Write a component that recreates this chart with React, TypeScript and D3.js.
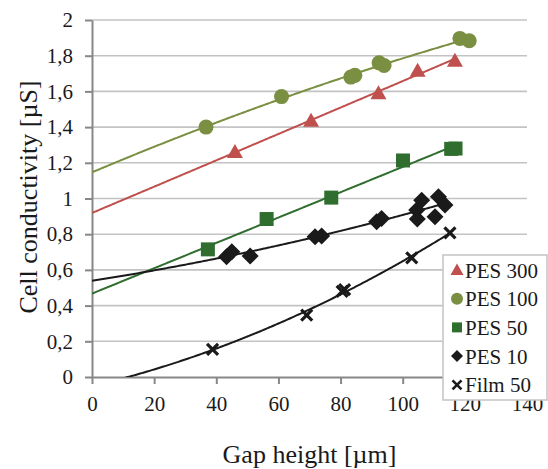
import * as d3 from "d3";
import { useRef, useEffect } from "react";

// values
const xTicks = [0, 20, 40, 60, 80, 100, 120, 140];
const yTicks = [0, 0.2, 0.4, 0.6, 0.8, 1, 1.2, 1.4, 1.6, 1.8, 2];

const seriesNames = ["PES 300", "PES 100", "PES 50", "PES 10", "Film 50"];
const seriesColors = ["#c0504d", "#7b8f42", "#2f6e2f", "#1a1a1a", "#1a1a1a"];
const seriesShapes = ["triangle", "circle", "square", "diamond", "cross"];
// trendline order used for each series (PES 50 is a straight line)
const trendOrder = [2, 2, 1, 2, 2];

const pes300X = [46.0, 70.5, 92.2, 104.8, 116.8];
const pes300Y = [1.26, 1.436, 1.589, 1.716, 1.772];

const pes100X = [36.7, 61.0, 83.3, 84.6, 92.4, 94.0, 118.4, 121.4];
const pes100Y = [1.4, 1.571, 1.68, 1.69, 1.76, 1.745, 1.897, 1.884];

const pes50X = [37.3, 56.2, 77.0, 100.1, 115.6, 117.0];
const pes50Y = [0.715, 0.885, 1.005, 1.213, 1.278, 1.28];

const pes10X = [43.3, 45.0, 50.9, 71.8, 73.9, 91.6, 93.2, 104.5, 104.7, 106.1, 110.4, 111.5, 113.6];
const pes10Y = [0.674, 0.702, 0.678, 0.786, 0.79, 0.87, 0.888, 0.935, 0.885, 0.99, 0.898, 1.01, 0.963];

const film50X = [38.8, 69.1, 80.5, 81.3, 102.9, 115.2];
const film50Y = [0.155, 0.347, 0.48, 0.49, 0.668, 0.808];

const seriesX = [pes300X, pes100X, pes50X, pes10X, film50X];
const seriesY = [pes300Y, pes100Y, pes50Y, pes10Y, film50Y];

// least squares polynomial, like the spreadsheet trendline
function fitPoly(xs: number[], ys: number[], order: number) {
  const n = order + 1;
  const s = new Array(2 * n - 1).fill(0);
  const t = new Array(n).fill(0);
  xs.forEach((x, i) => {
    for (let k = 0; k < 2 * n - 1; k++) s[k] += Math.pow(x, k);
    for (let k = 0; k < n; k++) t[k] += ys[i] * Math.pow(x, k);
  });
  const m = d3.range(n).map(r => d3.range(n).map(c => s[r + c]).concat([t[r]]));
  for (let c = 0; c < n; c++) {
    for (let r = c + 1; r < n; r++) {
      const f = m[r][c] / m[c][c];
      for (let k = c; k <= n; k++) m[r][k] -= f * m[c][k];
    }
  }
  const coef = new Array(n).fill(0);
  for (let r = n - 1; r >= 0; r--) {
    let v = m[r][n];
    for (let k = r + 1; k < n; k++) v -= m[r][k] * coef[k];
    coef[r] = v / m[r][r];
  }
  return (x: number) => coef.reduce((acc, c, k) => acc + c * Math.pow(x, k), 0);
}

function markerPath(shape: string, r: number) {
  if (shape === "triangle") return `M0,${-r}L${r},${r * 0.75}L${-r},${r * 0.75}Z`;
  if (shape === "circle") return `M${r},0A${r},${r} 0 1,1 ${-r},0A${r},${r} 0 1,1 ${r},0Z`;
  if (shape === "square") return `M${-r},${-r}H${r}V${r}H${-r}Z`;
  if (shape === "diamond") return `M0,${-r}L${r},0L0,${r}L${-r},0Z`;
  return `M${-r},${-r}L${r},${r}M${-r},${r}L${r},${-r}`;
}

const FONT = "Liberation Serif, Times New Roman, serif";

const App = () => {
  const svgRef = useRef<SVGSVGElement | null>(null);

  useEffect(() => {
    const totalWidth = 548;
    const totalHeight = 469;
    const margin = { left: 92, right: 21, top: 20, bottom: 92 };
    const width = totalWidth - margin.left - margin.right;
    const height = totalHeight - margin.top - margin.bottom;

    const root = d3.select(svgRef.current);
    root.selectAll("*").remove();

    const svg = root.append("g").attr("transform", `translate(${margin.left},${margin.top})`);

    const xScale = d3.scaleLinear().domain([0, 140]).range([0, width]);
    const yScale = d3.scaleLinear().domain([0, 2]).range([height, 0]);

    // gridlines
    svg.append("g")
      .selectAll("line")
      .data(yTicks.filter(d => d > 0))
      .join("line")
      .attr("x1", 0)
      .attr("x2", width)
      .attr("y1", d => yScale(d))
      .attr("y2", d => yScale(d))
      .attr("stroke", "#c3c3c3")
      .attr("stroke-width", 1.6);

    const fmt = (d: d3.NumberValue) => String(+(+d).toFixed(1)).replace(".", ",");

    const yAxis = svg.append("g")
      .call(d3.axisLeft(yScale).tickValues(yTicks).tickFormat(fmt).tickSize(7).tickPadding(12).tickSizeOuter(0));
    const xAxis = svg.append("g")
      .attr("transform", `translate(0, ${height})`)
      .call(d3.axisBottom(xScale).tickValues(xTicks).tickFormat(fmt).tickSize(7).tickPadding(12).tickSizeOuter(0));

    [yAxis, xAxis].forEach(ax => {
      ax.attr("font-family", FONT).attr("font-size", 21);
      ax.select(".domain").attr("stroke", "#878787").attr("stroke-width", 2);
      ax.selectAll(".tick line").attr("stroke", "#878787").attr("stroke-width", 2);
      ax.selectAll(".tick text")
        .attr("fill", "#1a1a1a")
        .attr("font-family", FONT)
        .attr("font-size", 21);
    });

    // trendlines
    const defs = root.append("defs");
    defs.append("clipPath").attr("id", "plotClip")
      .append("rect").attr("x", 0).attr("y", 0).attr("width", width).attr("height", height);

    const trendG = svg.append("g").attr("clip-path", "url(#plotClip)");
    seriesX.forEach((xs, i) => {
      const f = fitPoly(xs, seriesY[i], trendOrder[i]);
      const maxX = d3.max(xs) as number;
      const pts = d3.range(0, maxX, 0.5).concat([maxX]);
      const line = d3.line<number>()
        .x(d => xScale(d))
        .y(d => yScale(f(d)));
      trendG.append("path")
        .datum(pts)
        .attr("fill", "none")
        .attr("stroke", seriesColors[i])
        .attr("stroke-width", 2)
        .attr("d", line);
    });

    // markers
    const markerSize = [8, 7.5, 7, 8.5, 5.5];
    seriesX.forEach((xs, i) => {
      const shape = seriesShapes[i];
      svg.append("g")
        .selectAll("path")
        .data(xs.map((x, j) => ({ x, y: seriesY[i][j] })))
        .join("path")
        .attr("transform", d => `translate(${xScale(d.x)},${yScale(d.y)})`)
        .attr("d", markerPath(shape, markerSize[i]))
        .attr("fill", shape === "cross" ? "none" : seriesColors[i])
        .attr("stroke", shape === "cross" ? seriesColors[i] : "none")
        .attr("stroke-width", 3.2);
    });

    // axis titles
    root.append("text")
      .attr("x", margin.left + width / 2)
      .attr("y", 463)
      .attr("text-anchor", "middle")
      .attr("font-family", FONT)
      .attr("font-size", 26)
      .attr("fill", "#1a1a1a")
      .text("Gap height [\u00b5m]");

    root.append("text")
      .attr("transform", "translate(37,197) rotate(-90)")
      .attr("text-anchor", "middle")
      .attr("font-family", FONT)
      .attr("font-size", 26)
      .attr("fill", "#1a1a1a")
      .text("Cell conductivity [\u00b5S]");

    // legend
    const legend = root.append("g").attr("transform", "translate(443,255)");
    legend.append("rect")
      .attr("x", 0)
      .attr("y", 0)
      .attr("width", 104)
      .attr("height", 145)
      .attr("fill", "#ffffff")
      .attr("stroke", "#c3c3c3")
      .attr("stroke-width", 1.5);
    const legendSize = [6.5, 6, 5, 6, 4.5];
    seriesNames.forEach((name, i) => {
      const row = legend.append("g").attr("transform", `translate(0, ${15 + i * 28.7})`);
      const shape = seriesShapes[i];
      row.append("path")
        .attr("transform", "translate(14,0)")
        .attr("d", markerPath(shape, legendSize[i]))
        .attr("fill", shape === "cross" ? "none" : seriesColors[i])
        .attr("stroke", shape === "cross" ? seriesColors[i] : "none")
        .attr("stroke-width", 2.6);
      row.append("text")
        .attr("x", 22)
        .attr("y", 7.5)
        .attr("font-family", FONT)
        .attr("font-size", 21)
        .attr("fill", "#1a1a1a")
        .text(name);
    });

    return () => {
      root.selectAll("*").remove();
    };
  }, []);

  return (
    <svg
      ref={svgRef}
      width={548}
      height={469}
      style={{ position: "absolute", left: 0, top: 0, background: "#ffffff" }}
    />
  );
};

export default App;
